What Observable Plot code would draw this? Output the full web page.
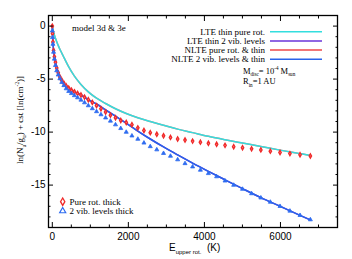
<!DOCTYPE html>
<html><head><meta charset="utf-8">
<script src="https://cdn.jsdelivr.net/npm/d3@7"></script>
<script src="https://cdn.jsdelivr.net/npm/@observablehq/plot@0.6"></script>
<style>body{margin:0;background:#fff}</style>
</head><body><div id="chart"></div>
<script>
// Upper-level energies (K) of the rotational ladder, J = 0..49
const energyJ = [0, 5.5, 16.6, 33.2, 55.4, 83.1, 116.3, 155.1, 199.4, 249.3,
  304.7, 365.6, 432.1, 504.1, 581.7, 664.8, 753.4, 847.6, 947.3, 1052.6,
  1163.4, 1279.7, 1401.6, 1529.0, 1662.0, 1800.5, 1944.5, 2094.1, 2249.2, 2409.9,
  2576.1, 2747.8, 2925.1, 3107.9, 3296.2, 3490.1, 3689.5, 3894.5, 4105.0, 4321.1,
  4542.6, 4769.8, 5002.4, 5240.6, 5484.4, 5733.7, 5988.5, 6248.8, 6514.7, 6786.2];
// Pure rot. thick (red diamonds)
const pureRotThick = [0.0, -0.7, -1.5, -2.3, -2.9, -3.4, -3.95, -4.4, -4.8, -5.1,
  -5.4, -5.65, -5.85, -6.05, -6.2, -6.35, -6.5, -6.7, -6.95, -7.2,
  -7.5, -7.8, -8.1, -8.4, -8.65, -8.9, -9.1, -9.3, -9.6, -9.85,
  -10.05, -10.2, -10.35, -10.5, -10.65, -10.75, -10.85, -10.95, -11.05, -11.15,
  -11.25, -11.38, -11.48, -11.58, -11.68, -11.8, -11.92, -12.03, -12.14, -12.25];
// 2 vib. levels thick (blue triangles)
const vibThick = [-0.45, -1.07, -1.7, -2.45, -3.1, -3.7, -4.2, -4.6, -4.95, -5.3,
  -5.6, -5.9, -6.15, -6.35, -6.55, -6.75, -6.97, -7.22, -7.5, -7.78,
  -8.06, -8.35, -8.65, -8.95, -9.3, -9.65, -10.0, -10.35, -10.66, -11.02,
  -11.36, -11.66, -12.0, -12.26, -12.6, -12.96, -13.27, -13.58, -13.9, -14.2,
  -14.6, -15.0, -15.38, -15.8, -16.2, -16.6, -17.0, -17.44, -17.85, -18.26];
// Thin curves sampled at a subset of energies
const lineE = [0, 5.5, 16.6, 33.2, 55.4, 83.1, 116.3, 155.1, 199.4, 249.3, 304.7,
  432.1, 581.7, 753.4, 947.3, 1163.4, 1401.6, 1662.0, 1944.5, 2249.2, 2576.1,
  2925.1, 3296.2, 3689.5, 4105.0, 4542.6, 5002.4, 5484.4, 5988.5, 6514.7, 6786.2];
const lteThinPureRot = [0, -0.12, -0.3, -0.55, -0.85, -1.15, -1.48, -1.82, -2.18, -2.55, -2.95,
  -3.85, -4.72, -5.5, -6.2, -6.8, -7.3, -7.8, -8.25, -8.65, -9.0,
  -9.35, -9.72, -10.05, -10.4, -10.72, -11.03, -11.35, -11.7, -12.03, -12.2];
const nltePureRotThin = lteThinPureRot.slice();
const nlteVibThin = [0, -0.7, -1.5, -2.3, -2.9, -3.4, -3.95, -4.4, -4.8, -5.1, -5.4,
  -5.85, -6.2, -6.5, -6.95, -7.35, -7.9, -8.5, -9.15, -9.9, -10.65,
  -11.4, -12.15, -12.92, -13.7, -14.5, -15.33, -16.18, -17.0, -17.85, -18.28];
const lteThinVib = nlteVibThin.slice();

const xMajor = [0, 2000, 4000, 6000];
const xMinor = [500, 1000, 1500, 2500, 3000, 3500, 4500, 5000, 5500, 6500, 7000];
const yMajor = [0, -5, -10, -15];
const yMinor = [-1, -2, -3, -4, -6, -7, -8, -9, -11, -12, -13, -14, -16, -17, -18];

const seriesNames = ["LTE thin pure rot.", "LTE thin 2 vib. levels", "NLTE pure rot. & thin", "NLTE 2 vib. levels & thin"];
const seriesColors = ["#33dede", "#6a35d8", "#f27676", "#2a62ea"];

const pts = energyJ.map((e, i) => ({e, red: pureRotThick[i], blue: vibThick[i]}));
const lines = lineE.map((e, i) => ({e, a: lteThinPureRot[i], b: lteThinVib[i], c: nltePureRotThin[i], d: nlteVibThin[i]}));

const W = 352, H = 259;
const chart = Plot.plot({
  width: W, height: H,
  marginLeft: 48, marginRight: 15, marginTop: 15, marginBottom: 32,
  style: {fontFamily: "Liberation Sans, Arial, sans-serif", fontSize: "10px", background: "#fff", color: "#000"},
  x: {domain: [-100, 7500], label: null},
  y: {domain: [-19, 1], label: null},
  marks: [
    Plot.line(lines, {x: "e", y: "c", stroke: seriesColors[2], strokeWidth: 1.5, curve: "monotone-x"}),
    Plot.line(lines, {x: "e", y: "a", stroke: seriesColors[0], strokeWidth: 1.5, curve: "monotone-x"}),
    Plot.line(lines, {x: "e", y: "b", stroke: seriesColors[1], strokeWidth: 1.5, curve: "monotone-x"}),
    Plot.line(lines, {x: "e", y: "d", stroke: seriesColors[3], strokeWidth: 1.5, curve: "monotone-x"}),
    Plot.dot(pts, {x: "e", y: "red", symbol: "diamond", r: 1.3, stroke: "#f02a2a", strokeWidth: 1.3, fill: "#ff8a8a"}),
    Plot.dot(pts, {x: "e", y: "blue", symbol: "triangle", r: 1.5, fill: "#2e6cf0", stroke: "#2e6cf0", strokeWidth: 0.8}),
    Plot.frame({stroke: "#000", strokeWidth: 1.3}),
    Plot.axisX(xMajor, {anchor: "bottom", tickSize: -5, tickFormat: () => "", label: null}),
    Plot.axisX(xMinor, {anchor: "bottom", tickSize: -2.5, tickFormat: () => "", label: null}),
    Plot.axisX(xMajor, {anchor: "top", tickSize: -5, tickFormat: () => "", label: null}),
    Plot.axisX(xMinor, {anchor: "top", tickSize: -2.5, tickFormat: () => "", label: null}),
    Plot.axisY(yMajor, {anchor: "left", tickSize: -5, tickFormat: () => "", label: null}),
    Plot.axisY(yMinor, {anchor: "left", tickSize: -2.5, tickFormat: () => "", label: null}),
    Plot.axisY(yMajor, {anchor: "right", tickSize: -5, tickFormat: () => "", label: null}),
    Plot.axisY(yMinor, {anchor: "right", tickSize: -2.5, tickFormat: () => "", label: null}),
    Plot.axisX(xMajor, {anchor: "bottom", tickSize: 0, tickPadding: 5, label: null, tickFormat: d => String(d)}),
    Plot.axisY(yMajor, {anchor: "left", tickSize: 0, tickPadding: 3, label: null, tickFormat: d => String(d)})
  ]
});
document.getElementById("chart").appendChild(chart);

const svg = d3.select(chart);
const serif = "Liberation Serif, Times New Roman, serif";
function rich(x, y, parts, fs, family, anchor, rotate) {
  const t = svg.append("text").attr("x", x).attr("y", y)
    .attr("font-family", family).attr("font-size", fs).attr("fill", "#000")
    .attr("text-anchor", anchor || "start");
  if (rotate) t.attr("transform", `rotate(${rotate},${x},${y})`);
  let shift = 0;
  for (const [s, k] of parts) {
    const target = k === "sub" ? fs * 0.3 : k === "sup" ? -fs * 0.4 : 0;
    const ts = t.append("tspan").text(s).attr("dy", target - shift);
    if (k) ts.attr("font-size", fs * 0.6);
    shift = target;
  }
  return t;
}
// annotation texts
rich(72, 30.5, [["model 3d & 3e"]], 9, serif);
// legend for lines
seriesNames.forEach((name, i) => {
  const yy = 31.7 + i * 9.2;
  rich(265, yy + 3, [[name]], 9, serif, "end");
  svg.append("line").attr("x1", 270).attr("x2", 322).attr("y1", yy).attr("y2", yy)
    .attr("stroke", seriesColors[i]).attr("stroke-width", i === 2 ? 2 : 1.5);
});
rich(243, 73.5, [["M"], ["disc", "sub"], ["= 10"], ["-4", "sup"], [" M"], ["sun", "sub"]], 8.5, serif);
rich(243, 84, [["R"], ["in", "sub"], ["=1 AU"]], 8.5, serif);
// point legend
svg.append("path").attr("d", d3.symbol(d3.symbolDiamond, 16)()).attr("transform", "translate(62.7,201.7)")
  .attr("fill", "none").attr("stroke", "#f02a2a").attr("stroke-width", 1.3);
rich(69.5, 204.7, [["Pure rot. thick"]], 9, serif);
svg.append("path").attr("d", d3.symbol(d3.symbolTriangle, 16)()).attr("transform", "translate(62.7,211)")
  .attr("fill", "none").attr("stroke", "#2e6cf0").attr("stroke-width", 1.2);
rich(69.5, 214, [["2 vib. levels thick"]], 9, serif);
// axis labels
rich(169, 250.5, [["E"], ["upper rot.", "sub"], ["  (K)"]], 10, "Liberation Sans, Arial, sans-serif");
rich(23, 120, [["ln(N"], ["u", "sub"], ["/g"], ["u", "sub"], [") + cst [ln(cm"], ["-2", "sup"], [")]"]], 9, serif, "middle", -90);
</script></body></html>
